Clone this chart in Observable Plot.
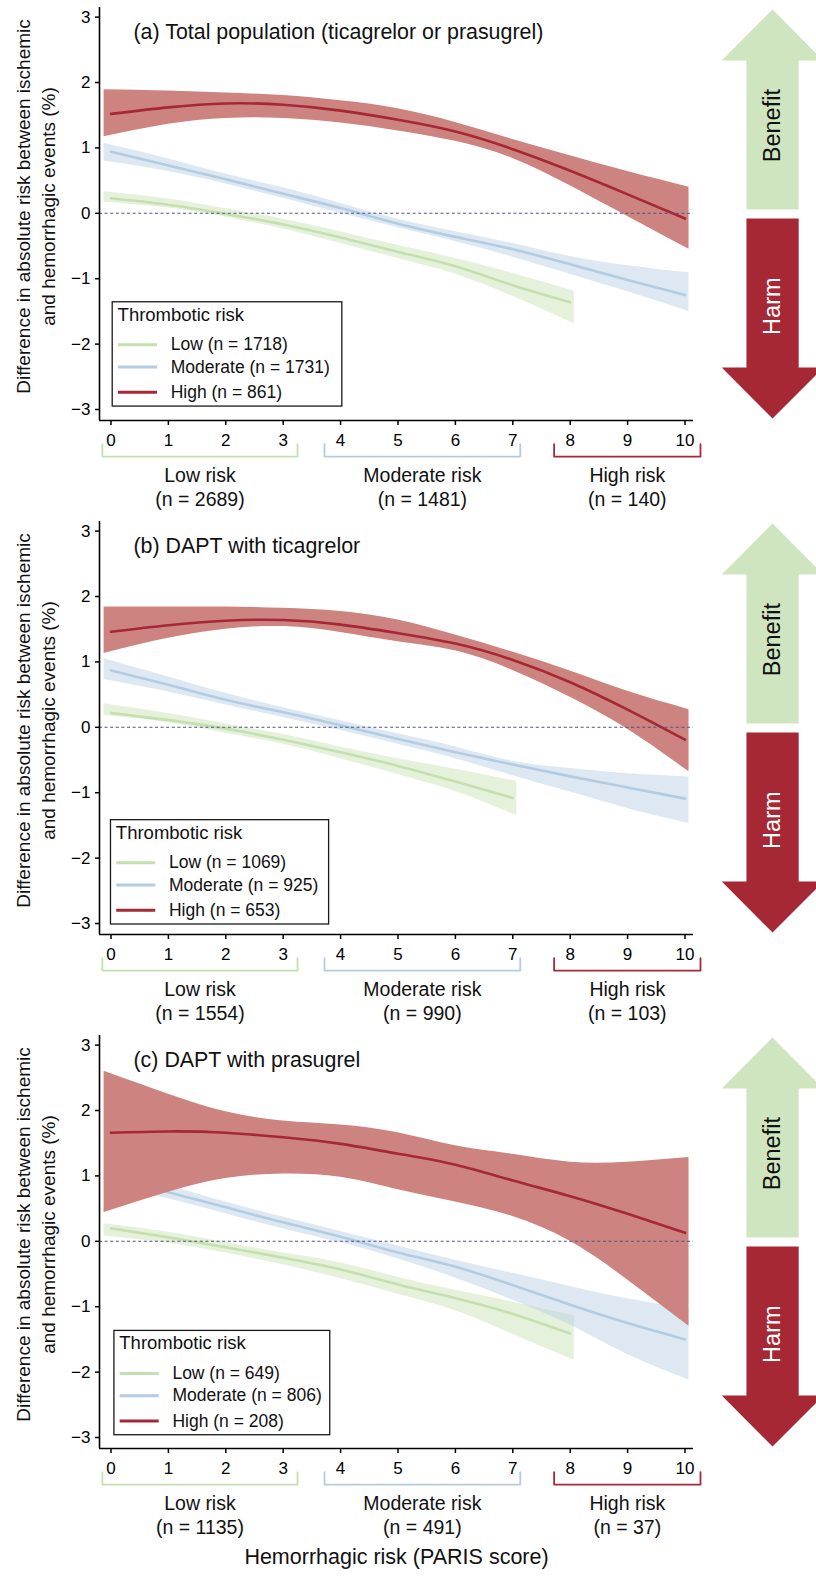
<!DOCTYPE html>
<html><head><meta charset="utf-8">
<script src="https://cdn.jsdelivr.net/npm/d3@7"></script>
<script src="https://cdn.jsdelivr.net/npm/@observablehq/plot@0.6"></script>
<style>
html,body{margin:0;padding:0;background:#fff;overflow:hidden;}
#chart{width:816px;}
#chart svg{display:block;overflow:visible;}
#chart svg [aria-label*="axis"] line, #chart svg [aria-label*="axis"] path{stroke-width:1.5px;}
</style></head>
<body><div id="chart"></div>
<script>
// ---------- data ----------
const score = [0,1,2,3,4,5,6,7,8,9,10];          // PARIS score
const yTicks = [-3,-2,-1,0,1,2,3];
const titles = ["(a) Total population (ticagrelor or prasugrel)", "(b) DAPT with ticagrelor", "(c) DAPT with prasugrel"];
const yLabelLines = ["Difference in absolute risk between ischemic", "and hemorrhagic events (%)"];
const thromboticGroups = ["Low", "Moderate", "High"];
const thromboticN = [[1718,1731,861],[1069,925,653],[649,806,208]];
const bleedGroups = ["Low risk", "Moderate risk", "High risk"];
const bleedN = [[2689,1481,140],[1554,990,103],[1135,491,37]];

// (a) total population
const aLowMid  = [0.23,0.13,-0.01,-0.17,-0.37,-0.59,-0.81,-1.10,-1.36];
const aLowLo   = [0.17,0.08,-0.06,-0.24,-0.46,-0.69,-0.93,-1.27,-1.69];
const aLowHi   = [0.33,0.22,0.07,-0.09,-0.28,-0.49,-0.69,-0.92,-1.19];
const aModMid  = [0.94,0.73,0.52,0.30,0.08,-0.16,-0.36,-0.55,-0.78,-1.02,-1.25];
const aModLo   = [0.80,0.64,0.45,0.23,0.00,-0.22,-0.43,-0.67,-0.93,-1.20,-1.50];
const aModHi   = [1.07,0.83,0.60,0.39,0.15,-0.09,-0.28,-0.46,-0.66,-0.80,-0.91];
const aHighMid = [1.52,1.62,1.68,1.66,1.57,1.43,1.25,0.98,0.65,0.29,-0.08];
const aHighLo  = [1.17,1.36,1.45,1.45,1.38,1.26,1.10,0.84,0.42,-0.05,-0.55];
const aHighHi  = [1.89,1.87,1.84,1.80,1.72,1.60,1.39,1.13,0.88,0.64,0.40];
// (b) ticagrelor
const bLowMid  = [0.22,0.11,-0.02,-0.19,-0.38,-0.59,-0.83,-1.08];
const bLowLo   = [0.18,0.07,-0.09,-0.26,-0.48,-0.72,-0.98,-1.35];
const bLowHi   = [0.36,0.21,0.05,-0.11,-0.30,-0.48,-0.64,-0.83];
const bModMid  = [0.87,0.65,0.42,0.23,0.03,-0.18,-0.38,-0.57,-0.75,-0.92,-1.09];
const bModLo   = [0.73,0.54,0.34,0.15,-0.05,-0.26,-0.48,-0.74,-0.99,-1.24,-1.47];
const bModHi   = [1.05,0.77,0.52,0.30,0.10,-0.10,-0.30,-0.52,-0.63,-0.71,-0.76];
const bHighMid = [1.46,1.56,1.63,1.64,1.57,1.44,1.28,1.03,0.69,0.27,-0.19];
const bHighLo  = [1.13,1.36,1.50,1.54,1.45,1.31,1.17,0.87,0.46,-0.03,-0.68];
const bHighHi  = [1.84,1.84,1.84,1.82,1.77,1.64,1.41,1.15,0.86,0.55,0.27];
// (c) prasugrel
const cLowMid  = [0.20,0.06,-0.09,-0.25,-0.43,-0.66,-0.87,-1.11,-1.41];
const cLowLo   = [0.08,-0.03,-0.18,-0.36,-0.57,-0.81,-1.06,-1.42,-1.82];
const cLowHi   = [0.27,0.14,-0.02,-0.18,-0.33,-0.55,-0.75,-0.93,-1.14];
const cModMid  = [0.98,0.75,0.52,0.29,0.07,-0.17,-0.39,-0.67,-0.97,-1.25,-1.50];
const cModLo   = [0.86,0.65,0.42,0.19,-0.02,-0.27,-0.56,-0.90,-1.28,-1.73,-2.12];
const cModHi   = [1.12,0.85,0.60,0.37,0.15,-0.07,-0.29,-0.49,-0.69,-0.88,-1.04];
const cHighMid = [1.66,1.68,1.66,1.59,1.49,1.34,1.17,0.93,0.69,0.42,0.13];
const cHighLo  = [0.44,0.75,0.96,1.03,0.98,0.79,0.60,0.38,0.00,-0.59,-1.30];
const cHighHi  = [2.60,2.25,1.98,1.84,1.78,1.66,1.46,1.33,1.21,1.21,1.28];

// ---------- layout & style ----------
const FONT = "'Liberation Sans', Arial, Helvetica, sans-serif";
const xDomain = [-0.2, 10.148];
const yDomain = [-3.168, 3.147];
const style = {
  Low:      {line: "#c5dfb0", band: "#c5dfb0", bandOpacity: 0.45},
  Moderate: {line: "#b3cce2", band: "#b3cce2", bandOpacity: 0.45},
  High:     {line: "#a52834", band: "#cd837f", bandOpacity: 1}
};
const bandPad = [0.12, 0.07];
const bracketSpans = [[-0.15, 3.25], [3.72, 7.13], [7.72, 10.27]];
const bracketY = {top: -3.53, bottom: -3.72, label1: -4.01, label2: -4.375};
const yLabel = {y: 0.104, dx: [-76, -51]};
const arrow = {cx: 11.525, shaft: 0.455, head: 0.885,
  benefit: {start: 0.06, base: 2.336, tip: 3.116, text: 1.34, fill: "#cfe5bf", color: "#111"},
  harm: {start: -0.08, base: -2.358, tip: -3.138, text: -1.42, fill: "#a52834", color: "#fff"}};

const panels = [
  {title: titles[0], height: 514, n: thromboticN[0], bn: bleedN[0], legend: {x1: 0.03, x2: 4.03, top: -1.36},
   series: {Low: [aLowMid, aLowLo, aLowHi], Moderate: [aModMid, aModLo, aModHi], High: [aHighMid, aHighLo, aHighHi]}},
  {title: titles[1], height: 514, n: thromboticN[1], bn: bleedN[1], legend: {x1: 0.0, x2: 3.80, top: -1.42},
   series: {Low: [bLowMid, bLowLo, bLowHi], Moderate: [bModMid, bModLo, bModHi], High: [bHighMid, bHighLo, bHighHi]}},
  {title: titles[2], height: 548, n: thromboticN[2], bn: bleedN[2], legend: {x1: 0.06, x2: 3.82, top: -1.37}, xTitle: "Hemorrhagic risk (PARIS score)",
   series: {Low: [cLowMid, cLowLo, cLowHi], Moderate: [cModMid, cModLo, cModHi], High: [cHighMid, cHighLo, cHighHi]}}
];

function arrowShape(a) {
  const c = arrow.cx, s = arrow.shaft, h = arrow.head;
  return [[c - s, a.start], [c - s, a.base], [c - h, a.base], [c, a.tip], [c + h, a.base], [c + s, a.base], [c + s, a.start]];
}

function panel(p) {
  const marks = [];
  // confidence bands and fitted lines
  for (const g of thromboticGroups) {
    const [mid, lo, hi] = p.series[g];
    const data = mid.map((m, i) => ({x: score[i], mid: m, lo: lo[i], hi: hi[i]}));
    const band = data.map((d, i) => ({...d, x: i === 0 ? d.x - bandPad[0] : i === data.length - 1 ? d.x + bandPad[1] : d.x}));
    marks.push(Plot.areaY(band, {x: "x", y1: "lo", y2: "hi", fill: style[g].band, fillOpacity: style[g].bandOpacity, curve: "natural"}));
    marks.push(Plot.line(data, {x: "x", y: "mid", stroke: style[g].line, strokeWidth: 2.6, curve: "natural"}));
  }
  // zero reference and axis lines
  marks.push(Plot.ruleY([0], {stroke: "#4f5283", strokeWidth: 1.1, strokeDasharray: "3,2.6"}));
  marks.push(Plot.ruleX([xDomain[0]], {stroke: "#000", strokeWidth: 1.6}));
  marks.push(Plot.ruleY([yDomain[0]], {stroke: "#000", strokeWidth: 1.6}));
  // title
  marks.push(Plot.text([p.title], {frameAnchor: "top-left", dx: 34, dy: 25, text: d => d, textAnchor: "start", lineAnchor: "middle", fontSize: 21.4, fill: "#111"}));
  // y label (two lines)
  yLabelLines.forEach((t, i) => {
    marks.push(Plot.text([{x: xDomain[0], y: yLabel.y, t}], {x: "x", y: "y", text: "t", dx: yLabel.dx[i], rotate: -90, fontSize: 19, fill: "#111"}));
  });
  // legend
  const L = p.legend;
  marks.push(Plot.rect([L], {x1: "x1", x2: "x2", y1: d => d.top, y2: d => d.top - 1.595, fill: "#fff", stroke: "#1a1a1a", strokeWidth: 1.3}));
  marks.push(Plot.text([{x: L.x1 + 0.085, y: L.top - 0.19, t: "Thrombotic risk"}], {x: "x", y: "y", text: "t", textAnchor: "start", fontSize: 18.5, fill: "#111"}));
  const itemY = [0.65, 0.99, 1.376];
  thromboticGroups.forEach((g, i) => {
    marks.push(Plot.ruleY([{y: L.top - itemY[i], x1: L.x1 + 0.10, x2: L.x1 + 0.78}], {y: "y", x1: "x1", x2: "x2", stroke: style[g].line, strokeWidth: 3}));
    marks.push(Plot.text([{x: L.x1 + 1.01, y: L.top - itemY[i], t: `${g} (n = ${p.n[i]})`}], {x: "x", y: "y", text: "t", textAnchor: "start", fontSize: 17.5, fill: "#111"}));
  });
  // brackets for hemorrhagic-risk categories
  bleedGroups.forEach((g, i) => {
    const [a, b] = bracketSpans[i];
    const col = style[thromboticGroups[i]].line;
    marks.push(Plot.line([[a, bracketY.top], [a, bracketY.bottom], [b, bracketY.bottom], [b, bracketY.top]], {x: d => d[0], y: d => d[1], stroke: col, strokeWidth: 1.8}));
    marks.push(Plot.text([{x: (a + b) / 2, y: bracketY.label1, t: g}], {x: "x", y: "y", text: "t", fontSize: 19.5, fill: "#111"}));
    marks.push(Plot.text([{x: (a + b) / 2, y: bracketY.label2, t: `(n = ${p.bn[i]})`}], {x: "x", y: "y", text: "t", fontSize: 19.5, fill: "#111"}));
  });
  // benefit / harm arrows
  for (const [key, label] of [["benefit", "Benefit"], ["harm", "Harm"]]) {
    const a = arrow[key];
    marks.push(Plot.line(arrowShape(a), {x: d => d[0], y: d => d[1], fill: a.fill, stroke: "none"}));
    marks.push(Plot.text([{x: arrow.cx, y: a.text, t: label}], {x: "x", y: "y", text: "t", rotate: -90, fontSize: 23.5, fill: a.color}));
  }
  if (p.xTitle) {
    marks.push(Plot.text([p.xTitle], {frameAnchor: "bottom", dy: 115, text: d => d, fontSize: 21.5, fill: "#111"}));
  }
  return Plot.plot({
    width: 816, height: p.height,
    marginLeft: 99, marginRight: 123, marginTop: 7, marginBottom: p.height - 420,
    style: {fontFamily: FONT, fontSize: "17px", color: "#000", background: "#fff", overflow: "visible"},
    x: {domain: xDomain, ticks: score, tickSize: 5, tickPadding: 8, label: null, tickFormat: d3.format("d")},
    y: {domain: yDomain, ticks: yTicks, tickSize: 4, tickPadding: 5, label: null, tickFormat: d3.format("d")},
    marks
  });
}

const root = document.getElementById("chart");
for (const p of panels) root.appendChild(panel(p));
</script>
</body></html>
